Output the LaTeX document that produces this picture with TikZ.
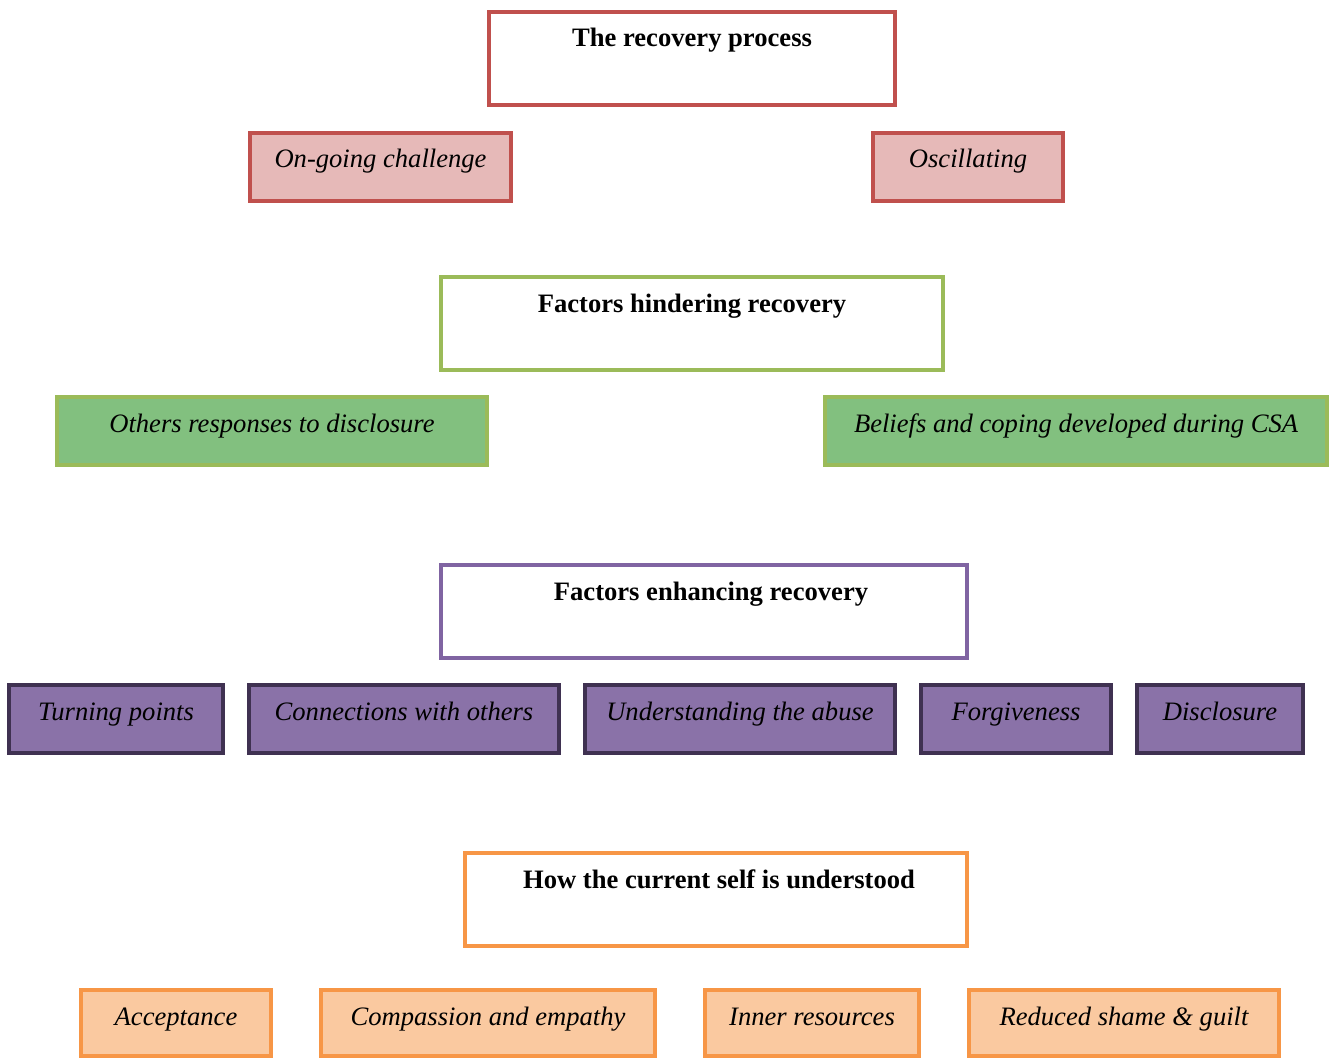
\documentclass[tikz,border=0pt]{standalone}
\usepackage{fontspec}
\setmainfont{Liberation Serif}
\definecolor{redline}{HTML}{C0504D}
\definecolor{redfill}{HTML}{E6B9B8}
\definecolor{greenline}{HTML}{9BBB59}
\definecolor{greenfill}{HTML}{82C07F}
\definecolor{purpleline}{HTML}{8064A2}
\definecolor{purpledark}{HTML}{3F3151}
\definecolor{purplefill}{HTML}{8A72A8}
\definecolor{orangeline}{HTML}{F79646}
\definecolor{orangefill}{HTML}{FAC9A0}
\tikzset{
  theme/.style={draw, line width=2pt, anchor=north, inner sep=0pt,
    text height=17.5pt, font=\fontsize{13.3}{16}\selectfont\bfseries,
    fill=white, text depth=29pt},
  subtheme/.style={draw, line width=2pt, anchor=north, inner sep=0pt,
    text height=17.5pt, font=\fontsize{13.3}{16}\selectfont\itshape,
    text depth=16.5pt}
}
\begin{document}
\begin{tikzpicture}[x=0.5pt,y=-0.5pt]
\useasboundingbox (0,0) rectangle (1332,1059);
\node[theme, draw=redline, minimum width=203pt] (recovery) at (692,10) {The recovery process};
\node[subtheme, draw=redline, fill=redfill, minimum width=130.5pt] (ongoing) at (380.5,131) {On-going challenge};
\node[subtheme, draw=redline, fill=redfill, minimum width=95pt] (oscillating) at (968,131) {Oscillating};
\node[theme, draw=greenline, minimum width=251pt] (hindering) at (692,275) {Factors hindering recovery};
\node[subtheme, draw=greenline, fill=greenfill, minimum width=215pt] (responses) at (272,395) {Others responses to disclosure};
\node[subtheme, draw=greenline, fill=greenfill, minimum width=251pt] (beliefs) at (1076,395) {Beliefs and coping developed during CSA};
\node[theme, draw=purpleline, minimum width=263pt] (enhancing) at (704,563) {\hspace*{7pt}Factors enhancing recovery};
\node[subtheme, draw=purpledark, fill=purplefill, minimum width=107pt] (turning) at (116,683) {Turning points};
\node[subtheme, draw=purpledark, fill=purplefill, minimum width=155pt] (connections) at (404,683) {Connections with others};
\node[subtheme, draw=purpledark, fill=purplefill, minimum width=155pt] (understanding) at (740,683) {Understanding the abuse};
\node[subtheme, draw=purpledark, fill=purplefill, minimum width=95pt] (forgiveness) at (1016,683) {Forgiveness};
\node[subtheme, draw=purpledark, fill=purplefill, minimum width=83pt] (disclosure) at (1220,683) {Disclosure};
\node[theme, draw=orangeline, minimum width=251pt] (currentself) at (716,851) {\hspace*{3pt}How the current self is understood};
\node[subtheme, draw=orangeline, fill=orangefill, minimum width=95pt, text depth=15.5pt] (acceptance) at (176,988) {Acceptance};
\node[subtheme, draw=orangeline, fill=orangefill, minimum width=167pt, text depth=15.5pt] (compassion) at (488,988) {Compassion and empathy};
\node[subtheme, draw=orangeline, fill=orangefill, minimum width=107pt, text depth=15.5pt] (inner) at (812,988) {Inner resources};
\node[subtheme, draw=orangeline, fill=orangefill, minimum width=155pt, text depth=15.5pt] (reduced) at (1124,988) {Reduced shame \& guilt};
\end{tikzpicture}
\end{document}
